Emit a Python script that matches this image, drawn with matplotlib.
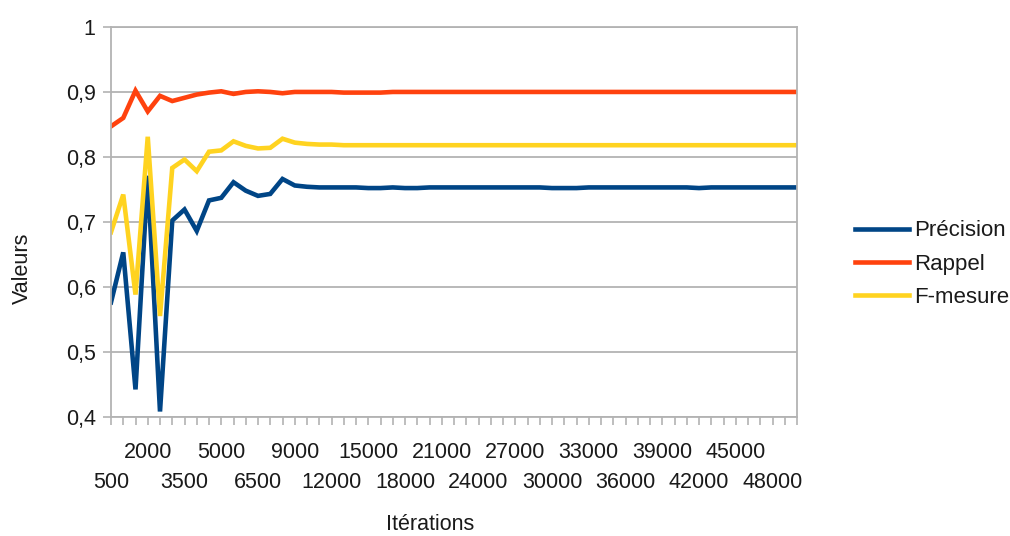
# -*- coding: utf-8 -*-

import numpy as np
import matplotlib
matplotlib.use("Agg")
import matplotlib.pyplot as plt
from matplotlib.ticker import FixedLocator, FixedFormatter

iterations = [500, 1000, 1500, 2000, 2500, 3000, 3500, 4000, 4500, 5000,
              5500, 6000, 6500, 7000, 8000] + list(range(9000, 50001, 1000))

precision = [0.576, 0.653, 0.442, 0.771, 0.408, 0.702, 0.719, 0.686, 0.733, 0.737,
             0.761, 0.748, 0.740, 0.743, 0.766, 0.756, 0.754, 0.753, 0.753, 0.753,
             0.753, 0.752, 0.752, 0.753, 0.752, 0.752, 0.753, 0.753, 0.753, 0.753,
             0.753, 0.753, 0.753, 0.753, 0.753, 0.753, 0.752, 0.752, 0.752, 0.753,
             0.753, 0.753, 0.753, 0.753, 0.753, 0.753, 0.753, 0.753, 0.752, 0.753,
             0.753, 0.753, 0.753, 0.753, 0.753, 0.753, 0.753]

rappel = [0.847, 0.860, 0.902, 0.870, 0.894, 0.886, 0.891, 0.896, 0.899, 0.901,
          0.897, 0.900, 0.901, 0.900, 0.898, 0.900, 0.900, 0.900, 0.900, 0.899,
          0.899, 0.899, 0.899, 0.900, 0.900, 0.900, 0.900, 0.900, 0.900, 0.900,
          0.900, 0.900, 0.900, 0.900, 0.900, 0.900, 0.900, 0.900, 0.900, 0.900,
          0.900, 0.900, 0.900, 0.900, 0.900, 0.900, 0.900, 0.900, 0.900, 0.900,
          0.900, 0.900, 0.900, 0.900, 0.900, 0.900, 0.900]

fmesure = [0.684, 0.742, 0.588, 0.831, 0.555, 0.783, 0.796, 0.778, 0.808, 0.810,
           0.824, 0.817, 0.813, 0.814, 0.828, 0.822, 0.820, 0.819, 0.819, 0.818,
           0.818, 0.818, 0.818, 0.818, 0.818, 0.818, 0.818, 0.818, 0.818, 0.818,
           0.818, 0.818, 0.818, 0.818, 0.818, 0.818, 0.818, 0.818, 0.818, 0.818,
           0.818, 0.818, 0.818, 0.818, 0.818, 0.818, 0.818, 0.818, 0.818, 0.818,
           0.818, 0.818, 0.818, 0.818, 0.818, 0.818, 0.818]

y_ticks = [0.4, 0.5, 0.6, 0.7, 0.8, 0.9, 1.0]
y_labels = ["0,4", "0,5", "0,6", "0,7", "0,8", "0,9", "1"]

plt.rcParams["font.family"] = ["Liberation Sans", "DejaVu Sans"]
fs = 15.5
grey = "#b3b3b3"
txt = "#1a1a1a"

fig = plt.figure(figsize=(10.10, 5.36), dpi=100)
ax = fig.add_axes([111 / 1010, 1 - 416.7 / 536, (797 - 111) / 1010, (416.7 - 27) / 536])

x = np.arange(len(iterations))
ax.plot(x, precision, color="#004586", lw=3.3, label="Précision", solid_joinstyle="miter")
ax.plot(x, rappel, color="#ff420e", lw=3.3, label="Rappel", solid_joinstyle="miter")
ax.plot(x, fmesure, color="#ffd320", lw=3.3, label="F-mesure", solid_joinstyle="miter")

ax.set_xlim(0, len(iterations) - 1)
ax.set_ylim(0.4, 1.0)
ax.set_yticks(y_ticks)
ax.set_yticklabels(y_labels)
ax.yaxis.grid(True, color=grey, lw=1.3)
ax.set_axisbelow(True)

# labels every 3 categories, staggered on two rows
top_idx = [i for i in range(0, len(x), 3) if (i // 3) % 2 == 1]
low_idx = [i for i in range(len(x)) if i not in top_idx]
ax.xaxis.set_major_locator(FixedLocator(top_idx))
ax.xaxis.set_major_formatter(FixedFormatter([str(iterations[i]) for i in top_idx]))
ax.xaxis.set_minor_locator(FixedLocator(low_idx))
ax.xaxis.set_minor_formatter(FixedFormatter(
    [str(iterations[i]) if i % 6 == 0 else "" for i in low_idx]))

ax.tick_params(axis="x", which="major", length=6, width=1.2, color=grey,
               labelsize=fs, labelcolor=txt, pad=12)
ax.tick_params(axis="x", which="minor", length=6, width=1.2, color=grey,
               labelsize=fs, labelcolor=txt, pad=34)
ax.tick_params(axis="y", length=6, width=1.2, color=grey, labelsize=fs,
               labelcolor=txt, pad=5)

for s in ax.spines.values():
    s.set_color(grey)
    s.set_linewidth(1.3)

fig.text(430 / 1010, 1 - 525 / 536, "Itérations", ha="center", va="center",
         fontsize=fs, color=txt)
fig.text(22 / 1010, 1 - 268 / 536, "Valeurs", ha="center", va="center",
         rotation=90, fontsize=fs, color=txt)

fig.legend(loc="center left", bbox_to_anchor=(855 / 1010, 1 - 264 / 536),
           frameon=False, fontsize=fs + 0.5, handlelength=2.45, handletextpad=0.2,
           labelspacing=0.55, borderpad=0, borderaxespad=0, labelcolor=txt)

fig.savefig("out.png", dpi=100, facecolor="white")
